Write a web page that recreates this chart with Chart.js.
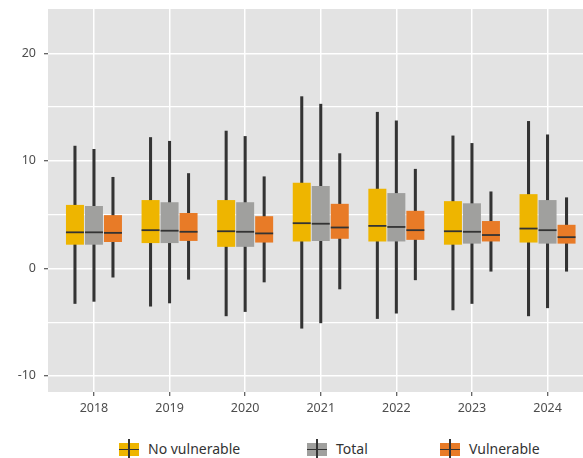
<!DOCTYPE html>
<html>
<head>
<meta charset="utf-8">
<script src="https://cdn.jsdelivr.net/npm/chart.js@4.4.1/dist/chart.umd.min.js"></script>
<style>
  body { margin: 0; background: #fff; font-family: "Noto Sans", sans-serif; }
  #wrap { position: relative; width: 583px; height: 424px; }
  #legend { position: relative; width: 583px; height: 34px; }
  .item { position: absolute; top: 15px; display: flex; align-items: center; font-size: 14px; color: #333; line-height: 20px; }
  .key { position: relative; width: 20px; height: 13px; margin-right: 9px; }
  .key::before { content: ""; position: absolute; left: 9px; width: 2px; top: -4px; bottom: -4px; background: #333; }
  .key::after { content: ""; position: absolute; left: 0; right: 0; top: 6px; height: 1.5px; background: #333; }
</style>
</head>
<body>
<div id="wrap"><canvas id="boxChart"></canvas></div>
<div id="legend"></div>
<script>
// years on the x axis
const years = ["2018", "2019", "2020", "2021", "2022", "2023", "2024"];

// five-number summaries per year: [min, q1, median, q3, max]
const noVulnerable = [
  [-3.3, 2.2, 3.35, 5.9, 11.4],
  [-3.55, 2.35, 3.55, 6.35, 12.2],
  [-4.45, 2.0, 3.45, 6.35, 12.8],
  [-5.6, 2.5, 4.2, 7.95, 16.0],
  [-4.7, 2.5, 3.95, 7.4, 14.55],
  [-3.9, 2.2, 3.45, 6.25, 12.35],
  [-4.45, 2.4, 3.7, 6.9, 13.7],
];
const total = [
  [-3.1, 2.2, 3.35, 5.8, 11.1],
  [-3.25, 2.35, 3.5, 6.15, 11.85],
  [-4.05, 2.0, 3.4, 6.15, 12.3],
  [-5.1, 2.55, 4.15, 7.65, 15.3],
  [-4.2, 2.5, 3.85, 7.0, 13.75],
  [-3.3, 2.3, 3.4, 6.05, 11.65],
  [-3.7, 2.3, 3.55, 6.35, 12.45],
];
const vulnerable = [
  [-0.85, 2.45, 3.3, 4.95, 8.5],
  [-1.05, 2.55, 3.4, 5.15, 8.85],
  [-1.3, 2.4, 3.25, 4.85, 8.55],
  [-1.95, 2.75, 3.8, 6.0, 10.7],
  [-1.1, 2.65, 3.55, 5.35, 9.25],
  [-0.3, 2.5, 3.1, 4.4, 7.15],
  [-0.3, 2.3, 2.9, 4.05, 6.6],
];

const yTicks = [-10, -5, 0, 5, 10, 15, 20];

const series = [
  { label: "No vulnerable", stats: noVulnerable, color: "#EEB500", stack: "a" },
  { label: "Total", stats: total, color: "#A0A09E", stack: "b" },
  { label: "Vulnerable", stats: vulnerable, color: "#E87B27", stack: "c" },
];

const AXIS_FONT = { family: "Noto Sans", size: 12.5 };

// boxes (q1..q3) on top, whiskers (min..max) underneath in the same slot
const datasets = [];
series.forEach((s) => {
  datasets.push({
    label: s.label,
    data: s.stats.map((v) => [v[1], v[3]]),
    medians: s.stats.map((v) => v[2]),
    backgroundColor: s.color,
    stack: s.stack,
    order: 0,
    categoryPercentage: 0.754,
    barPercentage: 0.947,
    borderWidth: 0,
  });
});
series.forEach((s) => {
  datasets.push({
    label: s.label + " range",
    data: s.stats.map((v) => [v[0], v[4]]),
    backgroundColor: "#333333",
    stack: s.stack,
    order: 1,
    categoryPercentage: 0.754,
    barPercentage: 0.16,
    borderWidth: 0,
  });
});

// grey panel behind the grid
const panelBackground = {
  id: "panelBackground",
  beforeDraw(chart) {
    const { ctx, chartArea: a } = chart;
    ctx.save();
    ctx.fillStyle = "#E3E3E3";
    ctx.fillRect(a.left, a.top, a.right - a.left, a.bottom - a.top);
    ctx.restore();
  },
};

// median line across each box
const medianLines = {
  id: "medianLines",
  afterDatasetsDraw(chart) {
    const ctx = chart.ctx;
    const y = chart.scales.y;
    chart.data.datasets.forEach((ds, i) => {
      if (!ds.medians) return;
      chart.getDatasetMeta(i).data.forEach((bar, j) => {
        const py = y.getPixelForValue(ds.medians[j]);
        ctx.save();
        ctx.strokeStyle = "#333333";
        ctx.lineWidth = 1.8;
        ctx.beginPath();
        ctx.moveTo(bar.x - bar.width / 2, py);
        ctx.lineTo(bar.x + bar.width / 2, py);
        ctx.stroke();
        ctx.restore();
      });
    });
  },
};

const chartConfig = {
  type: "bar",
  data: { labels: years, datasets: datasets },
  options: {
    responsive: true,
    maintainAspectRatio: false,
    animation: false,
    layout: { padding: { top: 9, left: 0, right: 0, bottom: 0 } },
    scales: {
      x: {
        type: "linear",
        min: 2017.392,
        max: 2024.469,
        offset: false,
        afterBuildTicks: (scale) => {
          scale.ticks = years.map((y) => ({ value: +y }));
        },
        afterFit: (scale) => {
          scale.height = 32;
        },
        ticks: {
          callback: (v) => String(v),
          color: "#4D4D4D",
          font: AXIS_FONT,
          padding: 5,
          maxRotation: 0,
          autoSkip: false,
        },
        grid: {
          offset: false,
          color: "#FFFFFF",
          lineWidth: 1.5,
          tickColor: "#333333",
          tickLength: 4,
          tickWidth: 1,
        },
        border: { display: false },
      },
      y: {
        min: -11.5,
        max: 24.12,
        stacked: false,
        afterBuildTicks: (scale) => {
          scale.ticks = yTicks.map((v) => ({ value: v }));
        },
        afterFit: (scale) => {
          // labels sit well inside the panel, no extra room needed above/below
          scale.width = 48;
          scale.paddingTop = 0;
          scale.paddingBottom = 0;
        },
        ticks: {
          callback: (v) => (v % 10 === 0 ? String(v) : ""),
          color: "#4D4D4D",
          font: AXIS_FONT,
          padding: 8,
        },
        grid: {
          color: "#FFFFFF",
          lineWidth: (ctx) => (ctx.tick && ctx.tick.value % 10 === 0 ? 1.5 : 1.2),
          tickColor: (ctx) => (ctx.tick && ctx.tick.value % 10 === 0 ? "#333333" : "rgba(0,0,0,0)"),
          tickLength: 4,
          tickWidth: 1,
        },
        border: { display: false },
      },
    },
    plugins: {
      legend: { display: false },
      tooltip: { enabled: false },
    },
  },
  plugins: [panelBackground, medianLines],
};

new Chart(document.getElementById("boxChart"), chartConfig);

// legend row under the chart
const legendLeft = [119, 307, 440];
const legend = document.getElementById("legend");
series.forEach((s, i) => {
  const item = document.createElement("div");
  item.className = "item";
  item.style.left = legendLeft[i] + "px";
  const key = document.createElement("span");
  key.className = "key";
  key.style.background = s.color;
  const text = document.createElement("span");
  text.textContent = s.label;
  item.appendChild(key);
  item.appendChild(text);
  legend.appendChild(item);
});
</script>
</body>
</html>
